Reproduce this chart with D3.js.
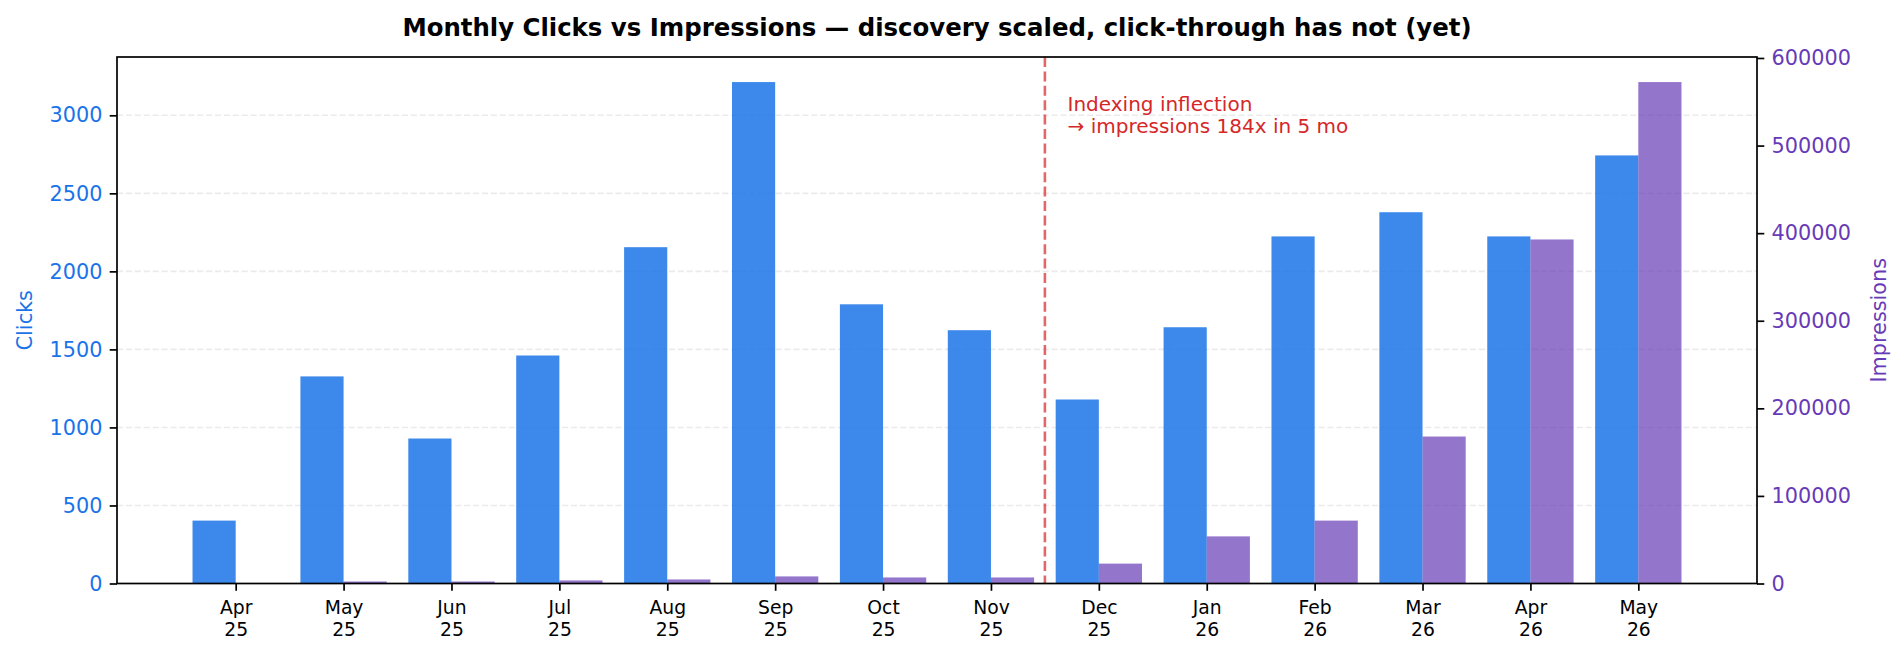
<!DOCTYPE html>
<html>
<head>
<meta charset="utf-8">
<script src="https://cdn.jsdelivr.net/npm/d3@7"></script>
<style>
  html, body { margin: 0; padding: 0; background: #fff; }
  svg { display: block; font-family: "DejaVu Sans", sans-serif; }
</style>
</head>
<body>
<svg id="chart" width="1904" height="656"></svg>
<script>
const months = ["Apr","May","Jun","Jul","Aug","Sep","Oct","Nov","Dec","Jan","Feb","Mar","Apr","May"];
const years  = ["25","25","25","25","25","25","25","25","25","26","26","26","26","26"];
const clicks = [403, 1327, 929, 1461, 2155, 3213, 1789, 1623, 1179, 1642, 2224, 2379, 2224, 2743];
const impressions = [300, 2300, 2300, 3500, 4600, 8100, 6900, 6900, 22700, 53800, 71800, 167800, 392800, 572500];
const clickTicks = [0, 500, 1000, 1500, 2000, 2500, 3000];
const impressionTicks = [0, 100000, 200000, 300000, 400000, 500000, 600000];
const titleText = "Monthly Clicks vs Impressions \u2014 discovery scaled, click-through has not (yet)";
const annotationLines = ["Indexing inflection", "\u2192 impressions 184x in 5 mo"];
const inflectionAt = 7.5;

const W = 1904, H = 656;
const M = {left: 117, right: 1757, top: 57, bottom: 583.5};
const BLUE = "#1a73e8", PURPLE = "#673ab7", RED = "#d62728";
const barW = 0.4;

const svg = d3.select("#chart");
const x = d3.scaleLinear().domain([-1.1, months.length - 1 + 1.1]).range([M.left, M.right]);
const yL = d3.scaleLinear().domain([0, d3.max(clicks) * 1.05]).range([M.bottom, M.top]);
const yR = d3.scaleLinear().domain([0, d3.max(impressions) * 1.05]).range([M.bottom, M.top]);

// grid
svg.append("g").selectAll("line").data(clickTicks).join("line")
  .attr("x1", M.left).attr("x2", M.right)
  .attr("y1", d => yL(d)).attr("y2", d => yL(d))
  .attr("stroke", "#ebebeb").attr("stroke-width", 1.6)
  .attr("stroke-dasharray", "6.2,2.7");

// clicks bars
svg.append("g").selectAll("rect").data(clicks).join("rect")
  .attr("x", (d, i) => x(i - barW))
  .attr("width", (d, i) => x(i) - x(i - barW))
  .attr("y", d => yL(d))
  .attr("height", d => yL(0) - yL(d))
  .attr("fill", BLUE).attr("fill-opacity", 0.85);

// impressions bars
svg.append("g").selectAll("rect").data(impressions).join("rect")
  .attr("x", (d, i) => x(i))
  .attr("width", (d, i) => x(i + barW) - x(i))
  .attr("y", d => yR(d))
  .attr("height", d => yR(0) - yR(d))
  .attr("fill", PURPLE).attr("fill-opacity", 0.7);

// inflection line
svg.append("line")
  .attr("x1", x(inflectionAt)).attr("x2", x(inflectionAt))
  .attr("y1", M.top).attr("y2", M.bottom)
  .attr("stroke", RED).attr("stroke-opacity", 0.7)
  .attr("stroke-width", 2.6).attr("stroke-dasharray", "10,4.4");

// annotation
const annX = x(inflectionAt + 0.21);
const ann = svg.append("text")
  .attr("x", annX).attr("y", 111)
  .attr("fill", RED).attr("font-size", 20);
annotationLines.forEach((t, k) => {
  ann.append("tspan").attr("x", annX).attr("dy", k === 0 ? 0 : 21.5).text(t);
});

// frame
svg.append("rect")
  .attr("x", M.left).attr("y", M.top)
  .attr("width", M.right - M.left).attr("height", M.bottom - M.top)
  .attr("fill", "none").attr("stroke", "#000").attr("stroke-width", 1.7);

// left axis
const gL = svg.append("g").attr("transform", `translate(${M.left},0)`)
  .call(d3.axisLeft(yL).tickValues(clickTicks).tickSize(7.3).tickPadding(7.3).tickFormat(d3.format("d")));
gL.select(".domain").remove();
gL.selectAll(".tick line").attr("stroke", "#000").attr("stroke-width", 1.7);
gL.selectAll(".tick text").attr("fill", BLUE).attr("font-size", 20.8).attr("font-family", "DejaVu Sans");

// right axis
const gR = svg.append("g").attr("transform", `translate(${M.right},0)`)
  .call(d3.axisRight(yR).tickValues(impressionTicks).tickSize(7.3).tickPadding(7.3).tickFormat(d3.format("d")));
gR.select(".domain").remove();
gR.selectAll(".tick line").attr("stroke", "#000").attr("stroke-width", 1.7);
gR.selectAll(".tick text").attr("fill", PURPLE).attr("font-size", 20.8).attr("font-family", "DejaVu Sans");

// bottom axis
const gB = svg.append("g").attr("transform", `translate(0,${M.bottom})`)
  .call(d3.axisBottom(x).tickValues(d3.range(months.length)).tickSize(7.3).tickPadding(7.3).tickFormat(""));
gB.select(".domain").remove();
gB.selectAll(".tick line").attr("stroke", "#000").attr("stroke-width", 1.7);
gB.selectAll(".tick").each(function(d) {
  const t = d3.select(this).append("text")
    .attr("fill", "#000").attr("font-size", 18.75).attr("font-family", "DejaVu Sans")
    .attr("text-anchor", "middle");
  t.append("tspan").attr("x", 0).attr("y", 30.5).text(months[d]);
  t.append("tspan").attr("x", 0).attr("y", 52.5).text(years[d]);
});

// axis labels
svg.append("text")
  .attr("transform", `translate(32,${(M.top + M.bottom) / 2}) rotate(-90)`)
  .attr("text-anchor", "middle").attr("fill", BLUE).attr("font-size", 20.8)
  .text("Clicks");
svg.append("text")
  .attr("transform", `translate(1886,${(M.top + M.bottom) / 2}) rotate(-90)`)
  .attr("text-anchor", "middle").attr("fill", PURPLE).attr("font-size", 20.8)
  .text("Impressions");

// title
svg.append("text")
  .attr("x", (M.left + M.right) / 2).attr("y", 36)
  .attr("text-anchor", "middle").attr("font-weight", "bold").attr("font-size", 24.4)
  .attr("fill", "#000")
  .text(titleText);
</script>
</body>
</html>
